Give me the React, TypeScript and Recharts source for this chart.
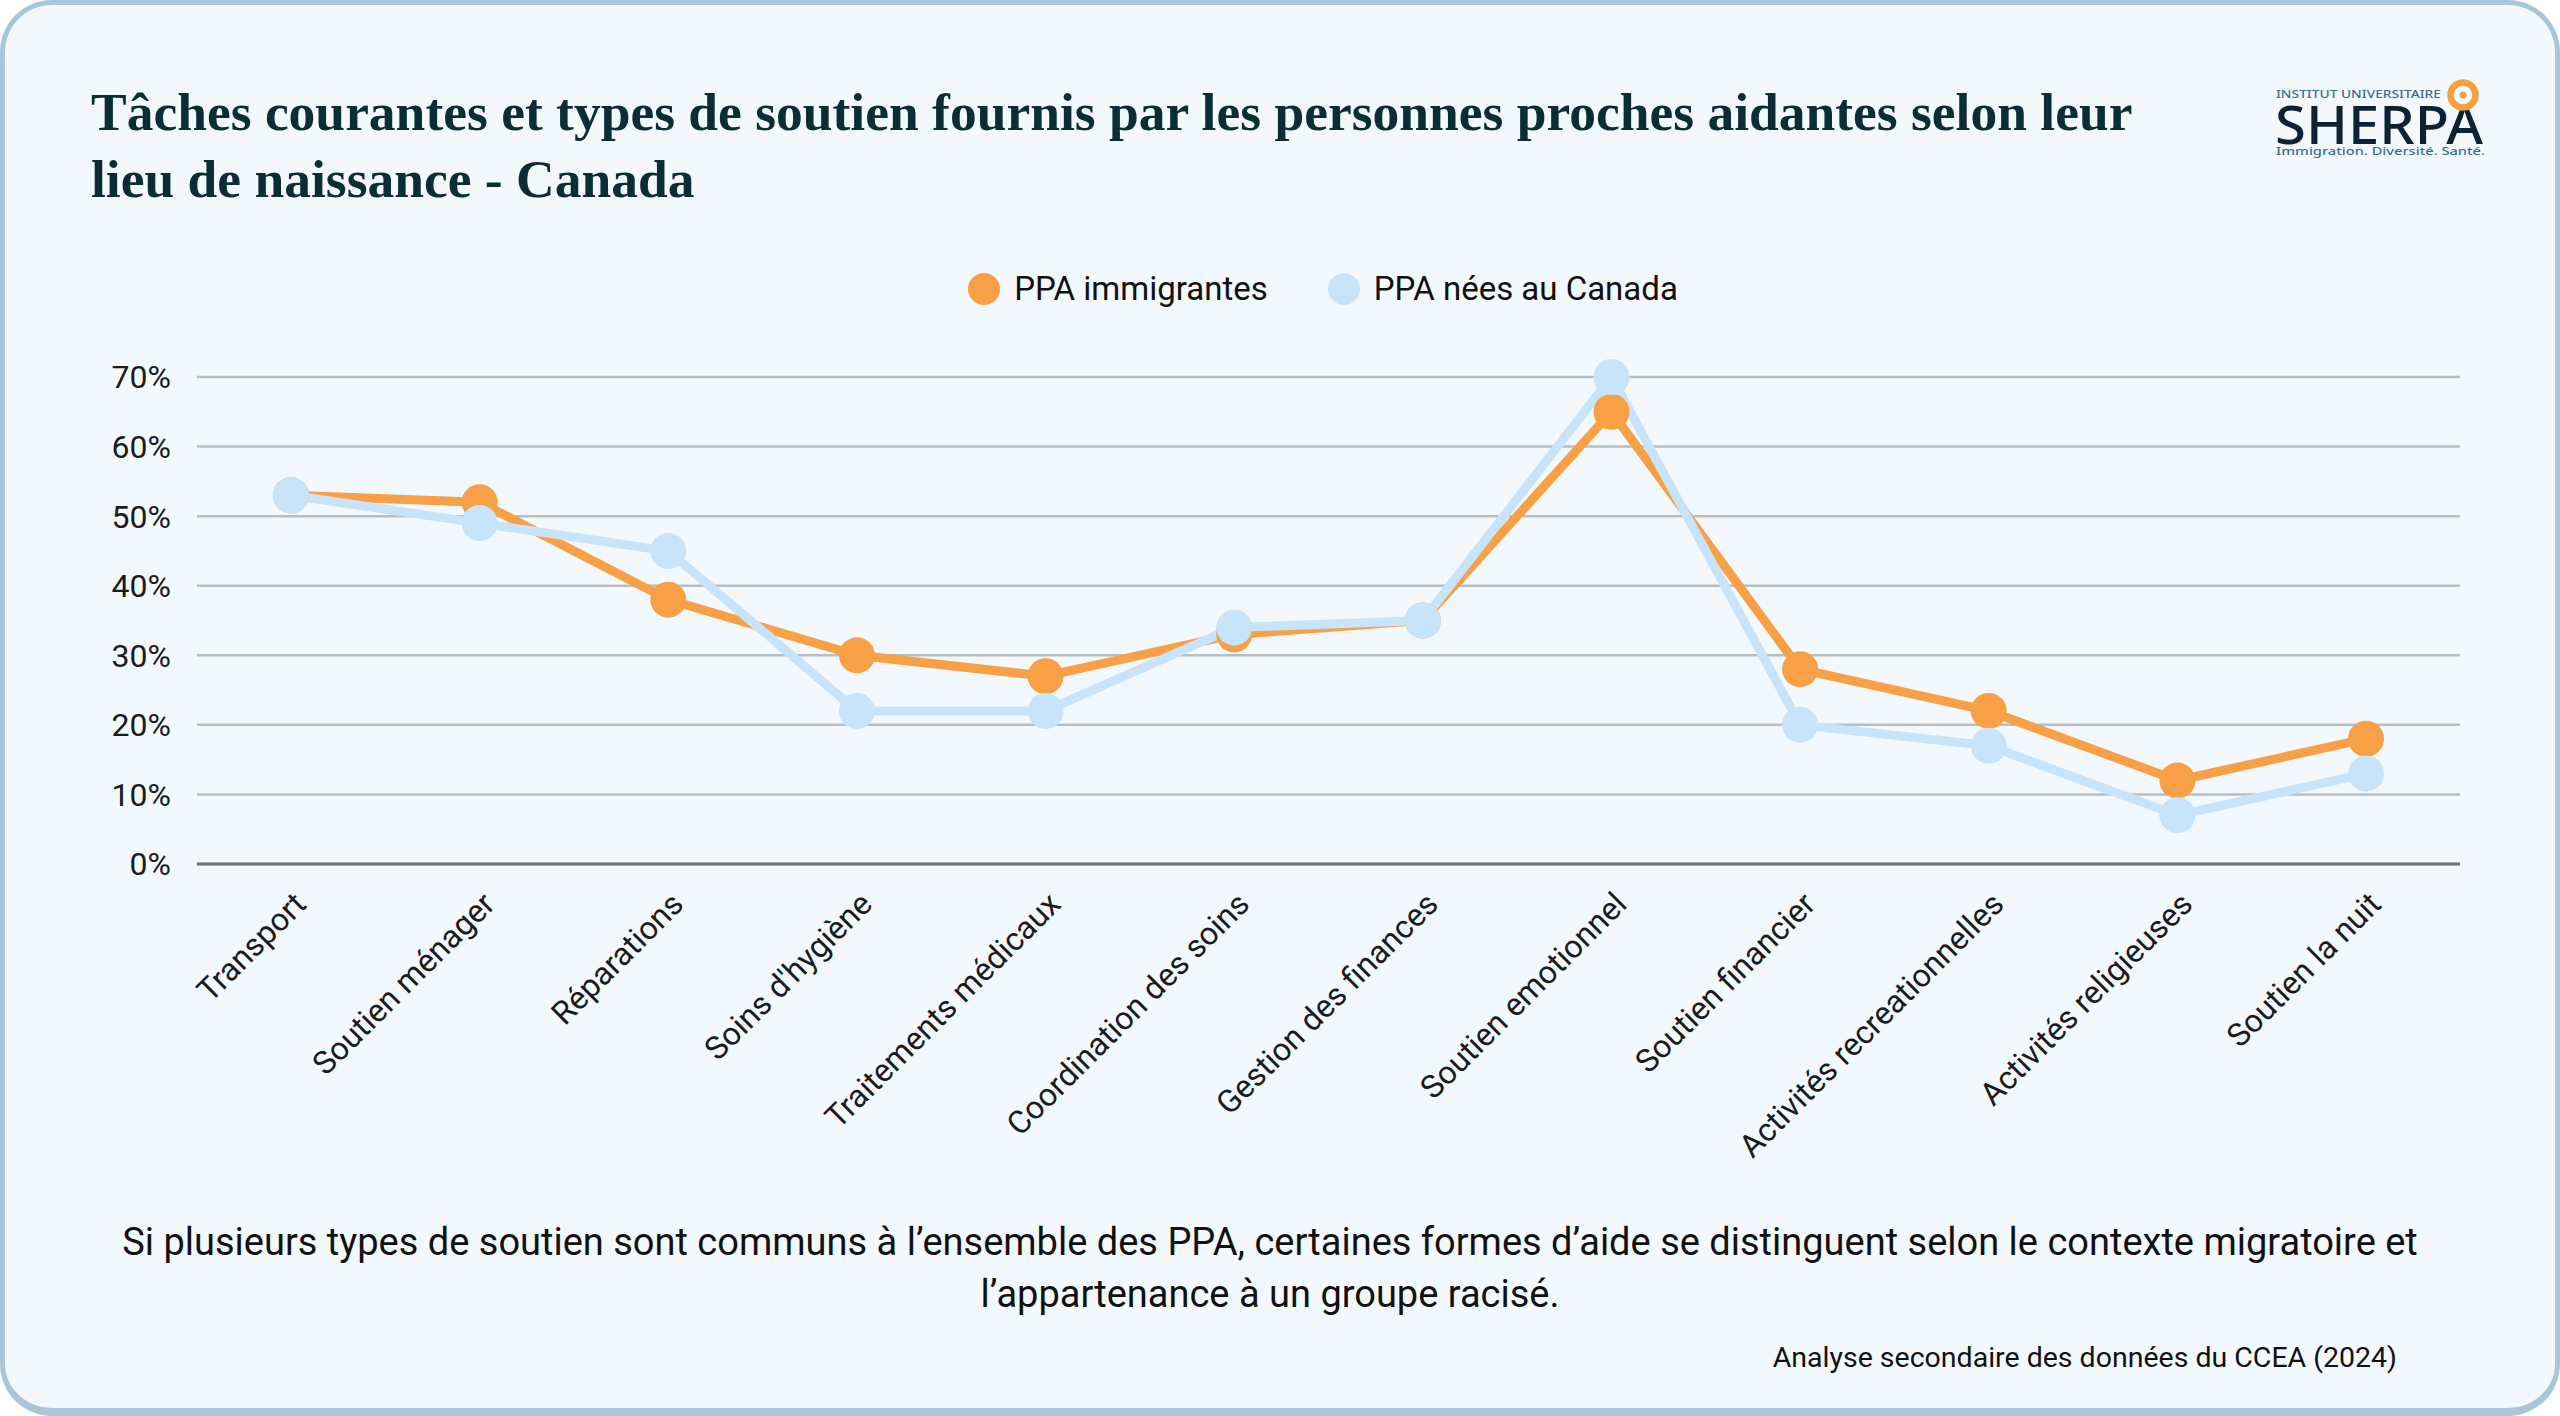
import React from "react";
import { LineChart, Line, XAxis, YAxis, CartesianGrid } from "recharts";

const categories = [
  "Transport",
  "Soutien ménager",
  "Réparations",
  "Soins d'hygiène",
  "Traitements médicaux",
  "Coordination des soins",
  "Gestion des finances",
  "Soutien emotionnel",
  "Soutien financier",
  "Activités recreationnelles",
  "Activités religieuses",
  "Soutien la nuit",
];
const immigrantes = [53, 52, 38, 30, 27, 33, 35, 65, 28, 22, 12, 18];
const neesCanada = [53, 49, 45, 22, 22, 34, 35, 70, 20, 17, 7, 13];
const yTicks = [0, 10, 20, 30, 40, 50, 60, 70];

const series = [
  { key: "immigrantes", name: "PPA immigrantes", color: "#F7A046" },
  { key: "nees", name: "PPA nées au Canada", color: "#C8E4FA" },
];

const data = categories.map((c, i) => ({
  cat: c,
  immigrantes: immigrantes[i],
  nees: neesCanada[i],
}));

const FONT = "Roboto, 'Noto Sans', sans-serif";

const AngledTick = (props: any) => {
  const { x, y, payload } = props;
  return (
    <g transform={`translate(${x + 17},${y})`}>
      <text
        x={0}
        y={0}
        textAnchor="end"
        transform="rotate(-45)"
        fontSize={32}
        fill="#1b1b1b"
        fontFamily={FONT}
      >
        {payload.value}
      </text>
    </g>
  );
};

const Logo = () => (
  <svg width={300} height={120} style={{ position: "absolute", left: 2250, top: 60 }}>
    <text x={21} y={33} fontSize={11.5} textLength={165} lengthAdjust="spacingAndGlyphs" fill="#3d6f8e" fontFamily="'Noto Sans', sans-serif" fontWeight={500}>
      INSTITUT UNIVERSITAIRE
    </text>
    <text x={20} y={79} fontSize={52} textLength={208} lengthAdjust="spacingAndGlyphs" fill="#0f2233" fontFamily="'Noto Sans', sans-serif" fontWeight={500}>
      SHERPA
    </text>
    <circle cx={208} cy={30} r={12.5} fill="none" stroke="#F4A23A" strokeWidth={6.5} />
    <circle cx={208} cy={30} r={3.5} fill="#F4A23A" />
    <text x={21} y={90} fontSize={11} textLength={209} lengthAdjust="spacingAndGlyphs" fill="#3d6f8e" fontFamily="'Noto Sans', sans-serif" fontWeight={500}>
      Immigration. Diversité. Santé.
    </text>
  </svg>
);

export default function App() {
  return (
    <div
      style={{
        position: "absolute",
        left: 0,
        top: 0,
        width: 2560,
        height: 1416,
        boxSizing: "border-box",
        background: "#F3F8FC",
        border: "5px solid #A8C6D8",
        borderBottomWidth: 8,
        borderRadius: 52,
        overflow: "hidden",
        fontFamily: FONT,
      }}
    >
      <div
        style={{
          position: "absolute",
          left: 86,
          top: 74,
          fontFamily: "'Liberation Serif', serif",
          fontWeight: 700,
          fontSize: 53.5,
          lineHeight: "67px",
          color: "#0B2E36",
          whiteSpace: "nowrap",
        }}
      >
        Tâches courantes et types de soutien fournis par les personnes proches aidantes selon leur
        <br />
        lieu de naissance - Canada
      </div>
      <Logo />
      <div
        style={{
          position: "absolute",
          left: 0,
          width: 2636,
          top: 264,
          display: "flex",
          justifyContent: "center",
          gap: 60,
          fontSize: 33,
          color: "#111",
        }}
      >
        {series.map((s) => (
          <div key={s.key} style={{ display: "flex", alignItems: "center", gap: 14 }}>
            <div style={{ width: 32, height: 32, borderRadius: 16, background: s.color }} />
            <span>{s.name}</span>
          </div>
        ))}
      </div>
      <div style={{ position: "absolute", left: -5, top: -5 }}>
        <LineChart
          width={2560}
          height={1416}
          data={data}
          margin={{ top: 377, right: 100, bottom: 252, left: 97 }}
        >
          <CartesianGrid vertical={false} stroke="#B9BDC4" strokeWidth={2.5} />
          <XAxis
            dataKey="cat"
            interval={0}
            height={300}
            padding={{ left: 94, right: 94 }}
            axisLine={{ stroke: "#6E7176", strokeWidth: 3 }}
            tickLine={false}
            tickSize={0}
            tickMargin={42}
            tick={<AngledTick />}
          />
          <YAxis
            width={100}
            domain={[0, 70]}
            ticks={yTicks}
            tickFormatter={(v: number) => `${v}%`}
            axisLine={false}
            tickLine={false}
            tickSize={0}
            tickMargin={26}
            tick={{ fontSize: 32, fill: "#1b1b1b", fontFamily: FONT }}
          />
          {series.map((s) => (
            <Line
              key={s.key}
              dataKey={s.key}
              name={s.name}
              stroke={s.color}
              strokeWidth={9}
              dot={{ r: 18, fill: s.color, stroke: "none" }}
              activeDot={false}
              isAnimationActive={false}
            />
          ))}
        </LineChart>
      </div>
      <div
        style={{
          position: "absolute",
          left: 0,
          width: 2530,
          top: 1211,
          textAlign: "center",
          fontSize: 38,
          lineHeight: "52px",
          color: "#111",
        }}
      >
        Si plusieurs types de soutien sont communs à l’ensemble des PPA, certaines formes d’aide se distinguent selon le contexte migratoire et
        <br />
        l’appartenance à un groupe racisé.
      </div>
      <div
        style={{
          position: "absolute",
          right: 158,
          top: 1336,
          fontSize: 28.5,
          color: "#111",
        }}
      >
        Analyse secondaire des données du CCEA (2024)
      </div>
    </div>
  );
}
